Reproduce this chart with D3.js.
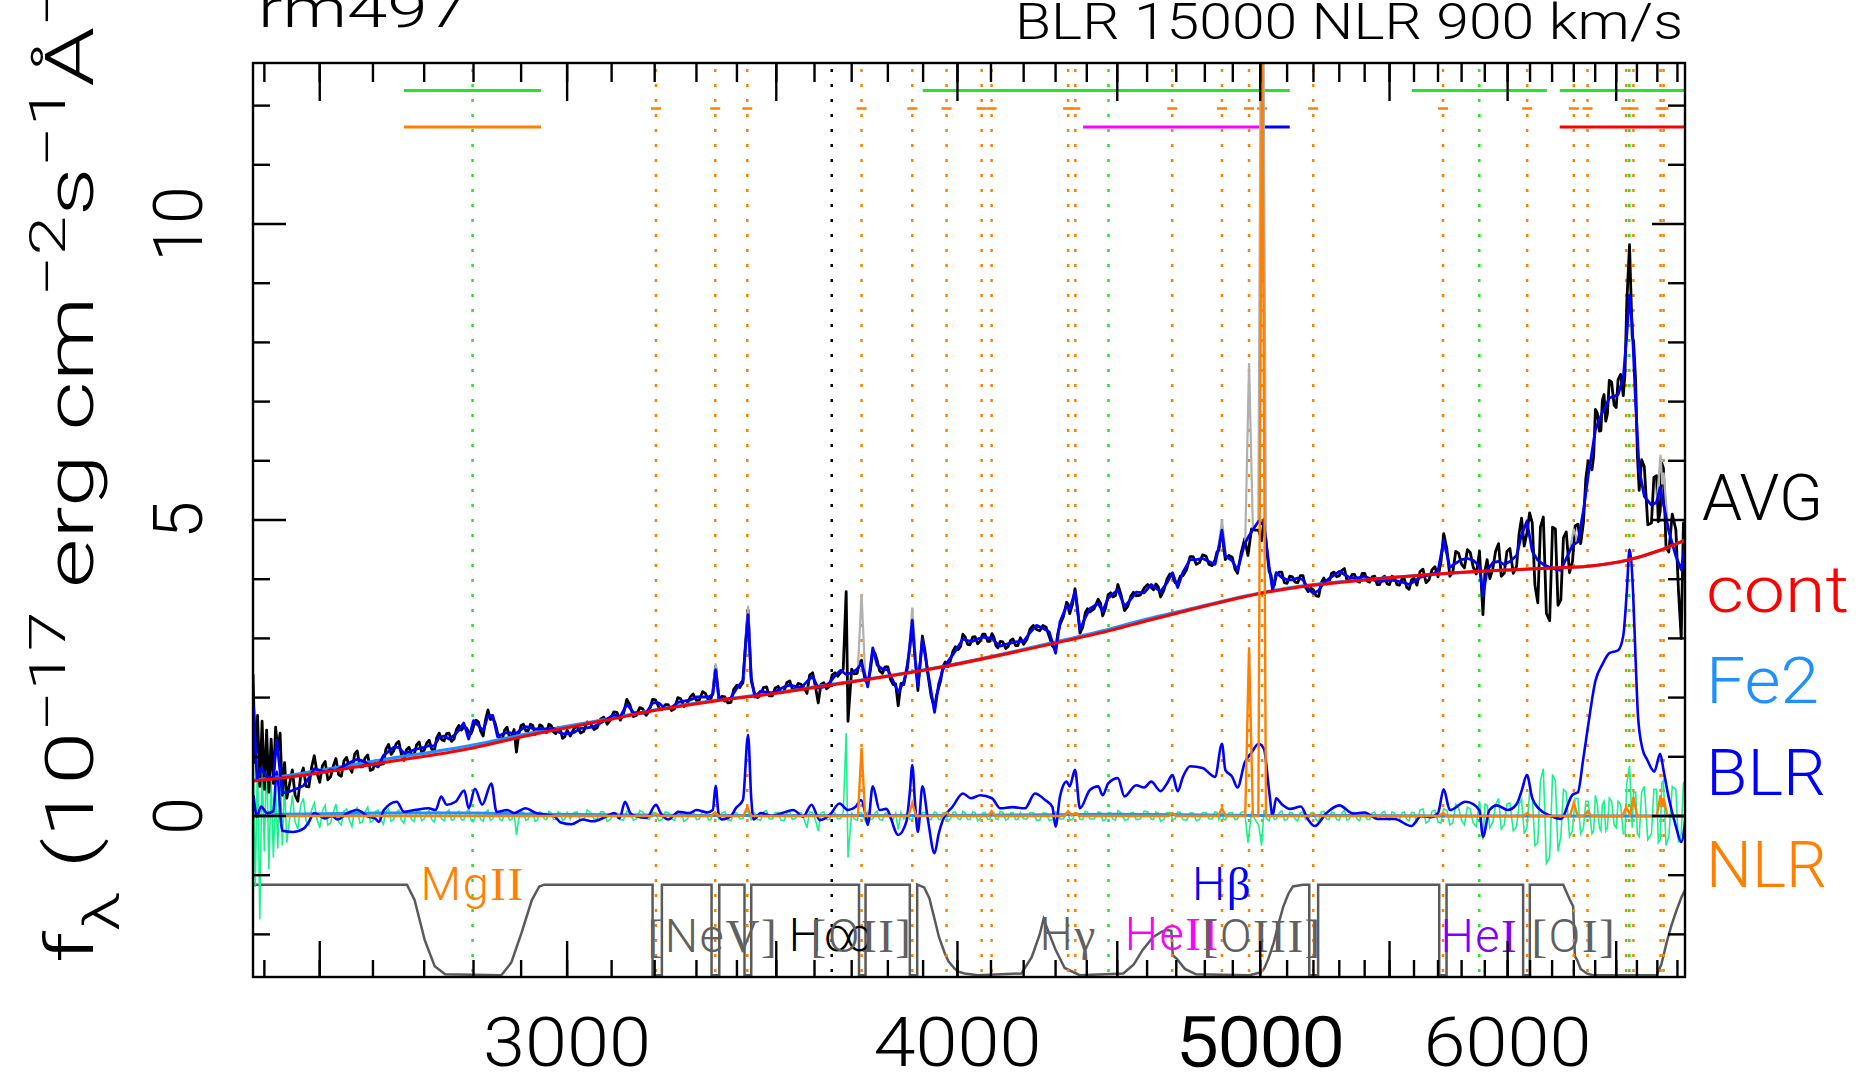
<!DOCTYPE html>
<html>
<head>
<meta charset="utf-8">
<script src="https://cdn.jsdelivr.net/npm/d3@7"></script>
<style>
  body { margin: 0; background: #fff; }
  text { font-family: "Roboto", "Liberation Sans", sans-serif; font-weight: 300; }
</style>
</head>
<body>
<svg id="chart" width="1863" height="1075"></svg>
<script>
// ---- axis ranges and ticks ----
const waveRange = [2380, 6838];
const fluxRange = [-2.72, 12.72];
const xMinorTicks = [2400,2500,2600,2700,2800,2900,3000,3100,3200,3300,3400,3500,3600,3700,3800,3900,4000,4100,4200,4300,4400,4500,4600,4700,4800,4900,5000,5100,5200,5300,5400,5500,5600,5700,5800,5900,6000,6100,6200,6300,6400,6500,6600,6700,6800];
const xMajorTicks = [2500,3000,3500,4000,4500,5000,5500,6000,6500];
const xTickLabels = [3000,4000,5000,6000];
const yMinorTicks = [-2,-1,0,1,2,3,4,6,7,8,9,11,12];
const yMajorTicks = [0,5,10];
const yTickLabels = [0,5,10];

// ---- spectrum components (wavelength in A, flux in 1e-17) ----
const contFlux = [[2380,0.59],[2431,0.64],[2618,0.90],[2799,1.15],[2932,1.39],[3090,1.62],[3206,1.79],[3343,1.94],[3509,2.08],[3580,2.15],[3967,2.53],[4299,2.92],[4482,3.14],[4610,3.31],[4706,3.43],[4991,3.75],[5147,3.87],[5339,3.96],[5669,4.08],[5968,4.15],[6205,4.19],[6367,4.22],[6552,4.32],[6707,4.48],[6838,4.66]];

const fe2PlusCont = [[2380,0.60],[2431,0.67],[2618,0.95],[2799,1.20],[2932,1.42],[3090,1.64],[3206,1.80],[3343,1.95],[3509,2.09],[3580,2.16],[3967,2.54],[4299,2.94],[4482,3.17],[4610,3.34],[4706,3.45],[4991,3.76],[5147,3.88],[5339,3.97],[5669,4.08],[5968,4.15],[6205,4.19],[6367,4.22],[6552,4.32],[6707,4.48],[6838,4.66]];

const fe2Flux = [[2380,0],[2431,0.03],[2618,0.05],[2799,0.05],[2932,0.03],[3090,0.02],[3343,0.01],[3967,0.01],[4299,0.02],[4482,0.03],[4706,0.02],[4991,0.01],[5339,0.01],[5669,0],[6838,0]];

const blrFlux = [[2381,0.35],[2387,-0.01],[2394,0.16],[2405,0.05],[2416,0.08],[2422,0.75],[2432,-0.25],[2451,-0.27],[2471,-0.21],[2480,-0.10],[2490,0.05],[2510,-0.04],[2523,0.00],[2533,-0.06],[2550,0.04],[2570,0.10],[2591,-0.01],[2604,-0.04],[2611,-0.10],[2621,0.10],[2646,0.24],[2660,0.07],[2681,0.10],[2709,0.13],[2723,0.10],[2734,0.33],[2745,0.19],[2763,0.24],[2781,0.43],[2790,0.13],[2803,0.46],[2818,0.19],[2837,0.55],[2848,0.07],[2870,0.10],[2886,0.05],[2909,0.13],[2932,0.05],[2971,0.00],[2986,-0.11],[3010,-0.14],[3034,-0.06],[3058,-0.09],[3090,0.00],[3106,0.05],[3118,-0.04],[3131,0.24],[3143,0.05],[3155,0.00],[3181,-0.03],[3203,0.19],[3214,0.05],[3232,-0.06],[3257,0.07],[3283,0.05],[3300,0.10],[3327,0.06],[3340,0.10],[3347,0.51],[3354,0.05],[3362,-0.06],[3385,0.00],[3397,0.13],[3415,0.27],[3428,1.37],[3436,0.30],[3442,-0.06],[3460,0.05],[3488,0.00],[3515,0.05],[3544,0.10],[3570,-0.01],[3592,0.19],[3614,-0.07],[3641,0.02],[3667,0.21],[3690,0.10],[3710,0.15],[3726,0.27],[3737,0.05],[3744,-0.15],[3758,0.50],[3777,0.10],[3795,0.12],[3829,-0.32],[3852,-0.10],[3862,0.40],[3869,0.86],[3877,0.20],[3885,-0.27],[3898,0.50],[3914,-0.07],[3933,-0.63],[3945,-0.30],[3957,-0.07],[3986,0.16],[4016,0.38],[4040,0.30],[4068,0.35],[4103,0.30],[4128,0.13],[4165,0.15],[4204,0.13],[4235,0.38],[4267,0.27],[4290,0.15],[4300,-0.18],[4314,0.33],[4335,0.58],[4345,0.50],[4362,0.78],[4378,0.13],[4410,0.44],[4437,0.50],[4452,0.35],[4470,0.55],[4502,0.64],[4524,0.33],[4563,0.52],[4590,0.48],[4614,0.58],[4646,0.42],[4668,0.55],[4687,0.69],[4705,0.42],[4723,0.66],[4748,0.84],[4792,0.81],[4836,0.66],[4861,1.22],[4873,0.78],[4898,0.66],[4917,0.48],[4943,0.90],[4968,1.07],[4994,1.22],[5014,1.13],[5033,0.42],[5046,0.01],[5059,0.30],[5080,0.20],[5112,0.12],[5152,0.16],[5178,-0.05],[5205,-0.17],[5250,0.05],[5300,0.18],[5355,0.04],[5400,0.06],[5453,-0.05],[5520,-0.05],[5589,-0.17],[5630,0.00],[5669,-0.02],[5700,0.05],[5724,0.45],[5750,0.10],[5817,0.24],[5850,0.20],[5877,0.09],[5892,-0.35],[5920,0.10],[5953,0.18],[6000,0.10],[6040,0.20],[6062,0.42],[6086,0.69],[6110,0.30],[6141,0.12],[6189,0.01],[6240,-0.05],[6294,0.36],[6319,0.40],[6343,0.94],[6367,1.53],[6401,2.28],[6434,2.56],[6467,2.75],[6509,2.80],[6534,3.05],[6551,3.80],[6564,4.50],[6581,3.80],[6594,2.60],[6605,1.70],[6626,1.15],[6650,0.95],[6685,0.75],[6714,1.05],[6731,0.77],[6757,0.30],[6792,-0.17],[6819,-0.44],[6840,-0.05]];

const modelFlux = [[2381,1.85],[2387,0.61],[2394,0.81],[2405,0.66],[2416,0.64],[2422,1.28],[2432,0.39],[2440,0.40],
[2450,0.43],[2460,0.47],[2470,0.51],[2480,0.64],[2490,0.80],[2500,0.77],[2510,0.74],[2520,0.78],[2530,0.77],[2540,0.82],[2550,0.87],[2560,0.92],[2570,0.96],[2580,0.93],[2590,0.88],[2600,0.87],[2610,0.83],[2620,1.02],[2630,1.09],[2640,1.16],[2650,1.16],[2660,1.06],[2670,1.08],[2680,1.12],[2690,1.14],[2700,1.16],[2710,1.19],[2720,1.18],[2730,1.33],[2740,1.35],[2750,1.30],[2760,1.36],[2770,1.45],[2780,1.57],[2790,1.30],[2800,1.61],[2810,1.53],[2820,1.44],[2830,1.69],[2840,1.70],[2850,1.34],[2860,1.38],[2870,1.41],[2880,1.40],[2890,1.40],[2900,1.46],[2910,1.51],[2920,1.49],[2930,1.47],[2940,1.47],[2950,1.47],[2960,1.47],[2970,1.48],[2980,1.42],[2990,1.39],[3000,1.39],
[3015,1.41],[3030,1.48],[3045,1.49],[3060,1.51],[3075,1.57],[3090,1.64],[3105,1.71],[3120,1.68],[3135,1.89],[3150,1.75],[3165,1.74],[3180,1.74],[3195,1.91],[3210,1.91],[3225,1.81],[3240,1.83],[3255,1.92],[3270,1.94],[3285,1.96],[3300,2.01],[3315,2.01],[3330,2.01],[3340,2.05],[3347,2.47],[3355,2.01],[3370,1.94],[3385,2.00],[3400,2.16],[3415,2.29],[3428,3.40],[3436,2.34],[3445,2.01],[3460,2.11],[3475,2.09],[3490,2.08],[3505,2.13],[3520,2.18],[3535,2.21],[3550,2.19],[3565,2.17],[3580,2.27],[3595,2.36],[3610,2.16],[3625,2.18],[3640,2.25],[3655,2.37],[3670,2.46],[3685,2.39],[3690,2.40],[3700,2.42],[3715,2.48],[3727,2.58],[3737,2.37],[3744,2.18],[3758,2.84],[3770,2.55],[3785,2.48],[3800,2.47],[3815,2.28],[3829,2.09],[3845,2.27],[3855,2.49],[3869,3.31],[3877,2.66],[3885,2.20],[3898,2.98],[3914,2.43],[3933,1.75],[3945,2.23],[3957,2.47],[3972,2.61],[3987,2.73],[4002,2.86],[4016,2.99],[4030,2.96],[4045,2.95],[4060,2.99],[4075,3.02],[4090,3.01],[4103,3.01],[4115,2.93],[4128,2.87],[4145,2.90],[4160,2.92],[4175,2.94],[4190,2.95],[4200,2.95],
[4220,3.10],[4240,3.22],[4260,3.17],[4280,3.11],[4300,2.75],[4314,3.28],[4335,3.55],[4345,3.49],[4362,3.79],[4378,3.15],[4395,3.35],[4410,3.50],[4437,3.59],[4452,3.46],[4470,3.68],[4485,3.75],[4502,3.82],[4524,3.54],[4545,3.66],[4563,3.78],[4590,3.77],[4614,3.91],[4630,3.85],[4646,3.79],[4668,3.94],[4687,4.11],[4705,3.86],[4723,4.12],[4748,4.33],[4770,4.33],[4792,4.35],[4815,4.30],[4836,4.25],[4850,4.55],[4861,4.83],[4873,4.40],[4898,4.31],[4917,4.15],[4943,4.60],[4955,4.70],[4968,4.80],[4994,4.98],[5005,4.94],[5014,4.91],[5033,4.21],[5046,3.81],[5059,4.11],[5080,4.03],[5100,3.99],[5120,3.99],[5140,4.02],[5160,3.99],[5180,3.84],[5200,3.76],[5220,3.81],[5240,3.94],[5260,4.01],[5280,4.07],[5300,4.13],[5320,4.08],[5340,4.03],[5360,4.02],[5380,4.03],[5400,4.05],[5420,4.01],[5440,3.98],[5460,3.96],[5480,3.97],[5500,3.98],[5520,3.98],[5540,3.96],[5560,3.94],[5580,3.91],[5600,3.96],
[5625,4.03],[5650,4.06],[5675,4.08],[5700,4.14],[5724,4.65],[5750,4.20],[5775,4.27],[5800,4.33],[5825,4.35],[5850,4.32],[5877,4.22],[5892,3.72],[5910,4.15],[5935,4.28],[5960,4.30],[5985,4.25],[6010,4.30],[6040,4.40],[6062,4.75],[6086,4.98],[6110,4.47],[6135,4.32],[6160,4.25],[6189,4.20],[6215,4.17],[6240,4.15],[6265,4.35],[6294,4.57],[6319,4.63],[6345,5.16],[6367,5.75],[6385,6.15],[6401,6.52],[6420,6.70],[6434,6.82],[6450,6.92],[6467,7.06],[6490,7.09],[6509,7.12],[6534,7.40],[6551,8.13],[6564,8.80],[6577,8.30],[6594,6.94],[6611,5.85],[6636,5.40],[6671,5.25],[6696,5.30],[6714,5.55],[6730,5.28],[6757,4.81],[6792,4.39],[6819,4.16],[6840,4.63]];

const avgFlux = [[2380,2.40],[2384,0.90],[2388,1.70],[2392,0.50],[2396,1.60],[2400,0.45],[2404,1.45],[2408,0.40],[2412,1.30],[2416,0.55],[2420,1.50],[2424,1.10],[2428,1.40],[2432,0.35],[2436,0.90],[2440,0.30],
[2450,0.78],[2460,0.25],[2470,0.81],[2480,0.49],[2490,1.02],[2500,0.57],[2510,0.92],[2520,0.66],[2530,0.97],[2540,0.67],[2550,0.99],[2560,0.74],[2570,1.10],[2580,0.83],[2590,1.03],[2600,0.79],[2610,0.93],[2620,0.88],[2630,1.21],[2640,1.10],[2650,1.26],[2660,0.94],[2670,1.16],[2680,1.03],[2690,1.25],[2700,1.11],[2710,1.28],[2720,1.08],[2730,1.40],[2740,1.27],[2750,1.40],[2760,1.30],[2770,1.53],[2780,1.50],[2790,1.42],[2800,1.51],[2810,1.59],[2820,1.35],[2830,1.79],[2840,1.65],[2850,1.41],[2860,1.30],[2870,1.50],[2880,1.34],[2890,1.08],[2900,1.53],[2910,1.44],[2920,1.55],[2930,1.38],[2940,1.54],[2950,1.42],[2960,1.55],[2970,1.42],[2980,1.49],[2990,1.31],[3000,1.45],
[3015,1.47],[3030,1.40],[3045,1.59],[3060,1.46],[3075,1.64],[3090,1.55],[3105,1.76],[3120,1.62],[3135,1.97],[3150,1.68],[3165,1.83],[3180,1.70],[3195,1.97],[3210,1.83],[3225,1.88],[3240,1.78],[3255,2.00],[3270,1.85],[3285,2.01],[3300,1.95],[3315,2.10],[3330,1.94],[3340,2.09],[3347,2.53],[3355,1.96],[3370,2.01],[3385,1.92],[3400,2.21],[3415,2.25],[3428,3.48],[3436,2.28],[3445,2.06],[3460,2.04],[3475,2.18],[3490,2.03],[3505,2.19],[3520,2.10],[3535,2.28],[3550,2.15],[3565,2.22],[3580,2.07],[3595,2.42],[3610,1.91],[3625,2.25],[3640,2.19],[3655,2.42],[3670,2.42],[3685,3.79],[3690,1.60],[3700,2.48],[3715,2.41],[3727,2.63],[3737,2.29],[3744,2.24],[3758,2.79],[3770,2.63],[3785,2.41],[3800,2.52],[3815,2.22],[3829,1.86],[3845,2.22],[3855,2.56],[3869,3.25],[3877,2.71],[3885,2.12],[3898,3.04],[3914,2.38],[3933,1.82],[3945,2.17],[3957,2.52],[3972,2.52],[3987,2.79],[4002,2.81],[4016,3.07],[4030,2.90],[4045,3.02],[4060,2.91],[4075,3.07],[4090,2.95],[4103,3.08],[4115,2.88],[4128,2.95],[4145,2.83],[4160,2.97],[4175,2.88],[4190,3.01],[4200,2.90],
[4220,3.16],[4240,3.15],[4260,3.22],[4280,3.03],[4300,2.82],[4314,3.23],[4335,3.61],[4345,3.42],[4362,3.84],[4378,3.09],[4395,3.43],[4410,3.45],[4437,3.66],[4452,3.38],[4470,3.74],[4485,3.70],[4502,3.91],[4524,3.47],[4545,3.71],[4563,3.72],[4590,3.85],[4614,3.86],[4630,3.92],[4646,3.70],[4668,4.00],[4687,4.06],[4705,3.93],[4723,4.06],[4748,4.38],[4770,4.25],[4792,4.41],[4815,4.25],[4836,4.32],[4850,4.49],[4861,4.88],[4873,4.33],[4898,4.37],[4917,4.10],[4943,4.68],[4955,4.40],[4968,4.85],[4994,4.83],[5005,4.65],[5014,5.01],[5033,4.13],[5046,3.87],[5059,4.06],[5080,4.12],[5100,3.93],[5120,4.04],[5140,3.94],[5160,4.06],[5180,3.79],[5200,3.82],[5220,3.71],[5240,4.02],[5260,3.95],[5280,4.12],[5300,4.06],[5320,4.18],[5340,3.98],[5360,4.08],[5380,3.95],[5400,4.10],[5420,3.95],[5440,4.05],[5460,3.91],[5480,4.05],[5500,3.91],[5520,4.03],[5540,3.90],[5560,4.01],[5580,3.83],[5600,4.02],
[5625,4.13],[5650,3.94],[5675,4.16],[5700,4.04],[5724,4.77],[5750,4.05],[5775,4.47],[5800,4.25],[5825,4.50],[5850,4.20],[5877,4.47],[5892,3.40],[5910,4.33],[5935,4.18],[5960,4.60],[5985,4.10],[6010,4.52],[6040,4.22],[6062,5.03],[6086,4.78],[6110,4.95],[6135,3.60],[6160,5.05],[6189,3.30],[6215,4.85],[6240,3.65],[6265,4.80],[6294,4.30],[6319,4.93],[6345,4.96],[6367,6.00],[6385,5.85],[6401,6.87],[6420,6.50],[6434,7.02],[6450,6.67],[6467,7.36],[6490,6.94],[6509,7.37],[6534,7.10],[6551,8.68],[6564,9.65],[6577,8.10],[6594,7.34],[6611,5.50],[6636,5.90],[6671,4.95],[6696,5.75],[6714,5.15],[6730,5.88],[6757,4.46],[6792,4.84],[6819,3.00],[6840,4.00]];

// extra data pixels between the ones above
const avgFluxFine = [[2455,0.35],[2465,0.67],[2475,0.50],[2485,0.82],[2495,0.73],[2505,0.85],[2515,0.61],[2525,0.84],[2535,0.70],[2545,0.93],[2555,0.83],[2565,1.04],[2575,0.83],[2585,0.98],[2595,0.77],[2605,0.93],[2615,0.87],[2625,1.13],[2635,1.04],[2645,1.22],[2655,1.04],[2665,1.12],[2675,1.04],[2685,1.20],[2695,1.07],[2705,1.23],[2715,1.13],[2725,1.32],[2735,1.29],[2745,1.39],[2755,1.26],[2765,1.46],[2775,1.45],[2785,1.49],[2795,1.39],[2805,1.62],[2815,1.43],[2825,1.63],[2835,1.63],[2845,1.57],[2855,1.30],[2865,1.45],[2875,1.34],[2885,1.46],[2895,1.38],[2905,1.55],[2915,1.44],[2925,1.53],[2935,1.40],[2945,1.52],[2955,1.41],[2965,1.53],[2975,1.39],[2985,1.46],[2995,1.34],
[3007,1.35],[3022,1.52],[3037,1.43],[3052,1.56],[3067,1.49],[3082,1.67],[3097,1.62],[3112,1.75],[3127,1.72],[3142,1.88],[3157,1.70],[3172,1.81],[3187,1.77],[3202,1.96],[3217,1.80],[3232,1.88],[3247,1.81],[3262,1.98],[3277,1.89],[3292,2.06],[3307,1.96],[3322,2.07],[3335,1.97],[3362,2.02],[3377,1.91],[3392,2.14],[3407,2.17],[3421,2.86],[3452,2.00],[3467,2.17],[3482,2.03],[3497,2.16],[3512,2.08],[3527,2.25],[3542,2.14],[3557,2.24],[3572,2.17],[3587,2.38],[3602,2.20],[3617,2.22],[3632,2.15],[3647,2.38],[3662,2.36],[3677,2.48],[3707,2.40],[3721,2.59],[3751,2.45],[3764,2.75],[3777,2.45],[3792,2.52],[3807,2.31],[3822,2.23],[3837,2.24],[3862,2.84],[3891,2.54],[3906,2.76],[3923,2.03],[3939,2.04],[3951,2.29],[3964,2.60],[3979,2.62],[3994,2.86],[4009,2.86],[4023,3.02],[4037,2.89],[4052,3.03],[4067,2.95],[4082,3.07],[4096,2.95],[4109,3.02],[4121,2.84],[4136,2.94],[4152,2.86],[4167,2.99],[4182,2.88],
[4210,2.98],[4230,3.22],[4250,3.13],[4270,3.19],[4290,2.87],[4307,3.08],[4325,3.37],[4340,3.58],[4354,3.58],[4370,3.52],[4387,3.19],[4402,3.50],[4424,3.50],[4445,3.59],[4461,3.51],[4478,3.77],[4494,3.72],[4513,3.73],[4535,3.54],[4554,3.78],[4577,3.73],[4602,3.91],[4622,3.82],[4638,3.87],[4657,3.81],[4678,4.09],[4696,3.94],[4714,4.05],[4736,4.16],[4759,4.38],[4781,4.28],[4804,4.39],[4826,4.23],[4843,4.46],[4867,4.54],[4886,4.40],[4908,4.17],[4930,4.44],[4981,4.83],[5024,4.51],[5040,4.07],[5052,3.90],[5070,4.12],[5090,3.94],[5110,4.05],[5130,3.95],[5150,4.06],[5170,3.86],[5190,3.85],[5210,3.72],[5230,3.94],[5250,3.92],[5270,4.10],[5290,4.04],[5310,4.15],[5330,3.98],[5350,4.08],[5370,3.97],[5390,4.10],[5410,3.97],[5430,4.04],[5450,3.91],[5470,4.02],[5490,3.92],[5510,4.05],[5530,3.91],[5550,4.00],[5570,3.86],[5590,3.99],
[5612,3.90],[5637,4.17],[5662,3.99],[5687,4.21],[5712,4.28],[5737,4.52],[5762,4.11],[5787,4.44],[5812,4.19],[5837,4.45],[5863,4.09],[5901,4.15],[5922,4.01],[5947,4.47],[5972,4.05],[5997,4.47],[6025,4.10],[6051,4.77],[6074,4.56],[6098,5.12],[6122,3.90],[6147,4.88],[6174,3.42],[6202,4.88],[6227,3.56],[6252,4.70],[6280,4.11],[6306,4.90],[6332,4.60],[6356,5.70],[6393,6.08],[6410,6.81],[6427,6.51],[6442,7.12],[6458,6.79],[6478,7.33],[6500,6.90],[6521,7.46],[6542,7.47],[6584,8.00],[6602,6.10],[6623,6.02],[6653,4.92],[6683,5.72],[6705,4.97],[6722,5.96],[6743,4.54],[6774,5.10],[6805,3.82],[6830,4.95]];

const residFlux = [[2380,1.40],[2384,-1.20],[2388,1.00],[2392,-1.75],[2396,0.90],[2400,-0.60],[2404,1.10],[2408,-0.90],[2412,0.60],[2416,-0.70],[2420,0.45],[2424,-0.55],[2428,0.85],[2432,-0.50],[2436,0.55],[2440,-0.45],
[2450,0.35],[2460,-0.22],[2470,0.30],[2480,-0.15],[2490,0.22],[2500,-0.20],[2510,0.18],[2520,-0.12],[2530,0.20],[2540,-0.15],[2550,0.12],[2560,-0.18],[2570,0.14],[2580,-0.10],[2590,0.15],[2600,-0.08],[2610,0.10],[2620,-0.14],[2630,0.12],[2640,-0.06],[2650,0.10],[2660,-0.12],[2670,0.08],[2680,-0.09],[2690,0.11],[2700,-0.05],[2710,0.09],[2720,-0.10],[2730,0.07],[2740,-0.08],[2750,0.10],[2760,-0.06],[2770,0.08],[2780,-0.07],[2790,0.12],[2800,-0.10],[2810,0.06],[2820,-0.09],[2830,0.10],[2840,-0.05],[2850,0.07],[2860,-0.08],[2870,0.09],[2880,-0.06],[2890,-0.32],[2900,0.07],[2910,-0.07],[2920,0.06],[2930,-0.09],[2940,0.07],[2950,-0.05],[2960,0.08],[2970,-0.06],[2980,0.07],[2990,-0.08],[3000,0.06],
[3015,0.06],[3030,-0.08],[3045,0.10],[3060,-0.05],[3075,0.07],[3090,-0.09],[3105,0.05],[3120,-0.06],[3135,0.08],[3150,-0.07],[3165,0.09],[3180,-0.04],[3195,0.06],[3210,-0.08],[3225,0.07],[3240,-0.05],[3255,0.08],[3270,-0.09],[3285,0.05],[3300,-0.06],[3315,0.09],[3330,-0.07],[3340,0.04],[3347,0.06],[3355,-0.05],[3370,0.07],[3385,-0.08],[3400,0.05],[3415,-0.04],[3428,0.08],[3436,-0.06],[3445,0.05],[3460,-0.07],[3475,0.09],[3490,-0.05],[3505,0.06],[3520,-0.08],[3535,0.07],[3550,-0.04],[3565,0.05],[3580,-0.20],[3595,0.06],[3610,-0.25],[3625,0.07],[3640,-0.06],[3655,0.05],[3670,-0.04],[3685,1.40],[3690,-0.70],[3700,0.06],[3715,-0.07],[3727,0.05],[3737,-0.08],[3744,0.06],[3758,-0.05],[3770,0.08],[3785,-0.07],[3800,0.05],[3815,-0.06],[3829,-0.23],[3845,-0.05],[3855,0.07],[3869,-0.06],[3877,0.05],[3885,-0.08],[3898,0.06],[3914,-0.05],[3933,0.07],[3945,-0.06],[3957,0.05],[3972,-0.09],[3987,0.06],[4002,-0.05],[4016,0.08],[4030,-0.06],[4045,0.07],[4060,-0.08],[4075,0.05],[4090,-0.06],[4103,0.07],[4115,-0.05],[4128,0.08],[4145,-0.07],[4160,0.05],[4175,-0.06],[4190,0.06],[4200,-0.05],
[4220,0.06],[4240,-0.07],[4260,0.05],[4280,-0.08],[4300,0.07],[4314,-0.05],[4335,0.06],[4345,-0.07],[4362,0.05],[4378,-0.06],[4395,0.08],[4410,-0.05],[4437,0.07],[4452,-0.08],[4470,0.06],[4485,-0.05],[4502,0.09],[4524,-0.07],[4545,0.05],[4563,-0.06],[4590,0.08],[4614,-0.05],[4630,0.07],[4646,-0.09],[4668,0.06],[4687,-0.05],[4705,0.07],[4723,-0.06],[4748,0.05],[4770,-0.08],[4792,0.06],[4815,-0.05],[4836,0.07],[4850,-0.06],[4861,0.05],[4873,-0.07],[4898,0.06],[4917,-0.05],[4943,0.08],[4955,-0.45],[4968,0.05],[4994,-0.15],[5005,-0.50],[5014,0.10],[5033,-0.08],[5046,0.06],[5059,-0.05],[5080,0.09],[5100,-0.06],[5120,0.05],[5140,-0.08],[5160,0.07],[5180,-0.05],[5200,0.06],[5220,-0.10],[5240,0.08],[5260,-0.06],[5280,0.05],[5300,-0.07],[5320,0.10],[5340,-0.05],[5360,0.06],[5380,-0.08],[5400,0.05],[5420,-0.06],[5440,0.07],[5460,-0.05],[5480,0.08],[5500,-0.07],[5520,0.05],[5540,-0.06],[5560,0.07],[5580,-0.08],[5600,0.06],
[5625,0.10],[5650,-0.12],[5675,0.08],[5700,-0.10],[5724,0.12],[5750,-0.15],[5775,0.20],[5800,-0.08],[5825,0.15],[5850,-0.12],[5877,0.25],[5892,-0.40],[5910,0.18],[5935,-0.10],[5960,0.30],[5985,-0.15],[6010,0.22],[6040,-0.18],[6062,0.28],[6086,-0.20],[6110,0.35],[6135,-0.45],[6160,0.80],[6189,-0.70],[6215,0.60],[6240,-0.35],[6265,0.40],[6294,-0.25],[6319,0.30],[6345,-0.20],[6367,0.25],[6385,-0.30],[6401,0.35],[6420,-0.20],[6434,0.20],[6450,-0.25],[6467,0.30],[6490,-0.15],[6509,0.25],[6534,-0.30],[6551,0.55],[6564,0.85],[6577,-0.20],[6594,0.40],[6611,-0.35],[6636,0.50],[6671,-0.30],[6696,0.45],[6714,-0.40],[6730,0.60],[6757,-0.35],[6792,0.45],[6819,-0.30],[6840,0.60]];

const residFluxFine = [[2455,-0.10],[2465,0.18],[2475,-0.08],[2485,0.10],[2495,-0.06],[2505,0.09],[2515,-0.15],[2525,0.06],[2535,-0.10],[2545,0.08],[2555,-0.07],[2565,0.10],[2575,-0.12],[2585,0.07],[2595,-0.11],[2605,0.08],[2615,-0.06],[2625,0.07],[2635,-0.09],[2645,0.06],[2655,-0.07],[2665,0.05],[2675,-0.06],[2685,0.07],[2695,-0.08],[2705,0.05],[2715,-0.06],[2725,0.06],[2735,-0.05],[2745,0.06],[2755,-0.07],[2765,0.05],[2775,-0.06],[2785,0.05],[2795,-0.07],[2805,0.05],[2815,-0.06],[2825,0.06],[2835,-0.07],[2845,0.05],[2855,-0.06],[2865,0.05],[2875,-0.07],[2885,0.06],[2895,-0.05],[2905,0.06],[2915,-0.06],[2925,0.05],[2935,-0.07],[2945,0.05],[2955,-0.06],[2965,0.05],[2975,-0.06],[2985,0.05],[2995,-0.05],
[3007,-0.05],[3022,0.07],[3037,-0.06],[3052,0.06],[3067,-0.05],[3082,0.07],[3097,-0.06],[3112,0.05],[3127,-0.07],[3142,0.06],[3157,-0.05],[3172,0.07],[3187,-0.06],[3202,0.05],[3217,-0.06],[3232,0.06],[3247,-0.07],[3262,0.05],[3277,-0.06],[3292,0.07],[3307,-0.05],[3322,0.06],[3335,-0.06],[3362,0.05],[3377,-0.06],[3392,0.06],[3407,-0.05],[3421,0.06],[3452,-0.06],[3467,0.07],[3482,-0.05],[3497,0.06],[3512,-0.07],[3527,0.05],[3542,-0.06],[3557,0.06],[3572,-0.05],[3587,0.07],[3602,-0.06],[3617,0.05],[3632,-0.06],[3647,0.07],[3662,-0.05],[3677,0.06],[3707,-0.05],[3721,0.06],[3751,-0.06],[3764,0.05],[3777,-0.06],[3792,0.05],[3807,-0.06],[3822,0.05],[3837,0.06],[3862,-0.06],[3891,-0.05],[3906,0.06],[3923,-0.06],[3939,0.05],[3951,-0.06],[3964,0.06],[3979,-0.05],[3994,0.07],[4009,-0.06],[4023,0.05],[4037,-0.06],[4052,0.06],[4067,-0.05],[4082,0.06],[4096,-0.06],[4109,0.05],[4121,-0.06],[4136,0.06],[4152,-0.05],[4167,0.06],[4182,-0.06],
[4210,-0.05],[4230,0.06],[4250,-0.07],[4270,0.05],[4290,-0.06],[4307,0.06],[4325,-0.05],[4340,0.06],[4354,-0.06],[4370,0.05],[4387,-0.06],[4402,0.07],[4424,-0.05],[4445,0.06],[4461,-0.06],[4478,0.05],[4494,-0.07],[4513,0.05],[4535,-0.06],[4554,0.06],[4577,-0.05],[4602,0.07],[4622,-0.06],[4638,0.05],[4657,-0.06],[4678,0.06],[4696,-0.05],[4714,0.06],[4736,-0.07],[4759,0.05],[4781,-0.06],[4804,0.06],[4826,-0.05],[4843,0.06],[4867,-0.06],[4886,0.05],[4908,-0.06],[4930,0.06],[4981,-0.06],[5024,-0.05],[5040,0.06],[5052,-0.06],[5070,0.05],[5090,-0.07],[5110,0.06],[5130,-0.05],[5150,0.06],[5170,-0.06],[5190,0.05],[5210,-0.06],[5230,0.07],[5250,-0.05],[5270,0.06],[5290,-0.06],[5310,0.05],[5330,-0.07],[5350,0.06],[5370,-0.05],[5390,0.06],[5410,-0.06],[5430,0.05],[5450,-0.06],[5470,0.06],[5490,-0.05],[5510,0.07],[5530,-0.06],[5550,0.05],[5570,-0.06],[5590,0.06],
[5612,-0.10],[5637,0.12],[5662,-0.08],[5687,0.10],[5712,-0.12],[5737,0.10],[5762,-0.12],[5787,0.14],[5812,-0.15],[5837,0.12],[5863,-0.18],[5901,0.20],[5922,-0.20],[5947,0.18],[5972,-0.22],[5997,0.20],[6025,-0.25],[6051,0.20],[6074,-0.30],[6098,0.40],[6122,-0.50],[6147,0.60],[6174,-0.80],[6202,0.70],[6227,-0.60],[6252,0.45],[6280,-0.35],[6306,0.30],[6332,-0.30],[6356,0.25],[6393,-0.25],[6410,0.20],[6427,-0.25],[6442,0.25],[6458,-0.20],[6478,0.25],[6500,-0.20],[6521,0.20],[6542,-0.30],[6584,0.40],[6602,-0.30],[6623,0.40],[6653,-0.40],[6683,0.45],[6705,-0.45],[6722,0.55],[6743,-0.50],[6774,0.50],[6805,-0.45],[6830,0.55]];

const nlrFlux = [[2380,0],[3195,0],[3203,0.04],[3211,0],[3337,0],[3346,0.06],[3355,0],[3416,0],[3426,0.15],[3436,0],[3717,0],[3727,1.15],[3737,0],[3858,0],[3869,0.22],[3880,0],[3957,0],[3968,0.06],[3979,0],[4091,0],[4102,0.08],[4113,0],[4328,0],[4340,0.08],[4351,0.01],[4363,0.05],[4375,0],[4673,0],[4686,0.05],[4699,0],[4847,0],[4861,0.13],[4875,0],[4945,0],[4959,2.85],[4973,0],[4993,0],[5007,13.5],[5021,0],[5185,0],[5199,0.04],[5213,0],[5705,0],[5721,0.05],[5737,0],[6070,0],[6087,0.05],[6104,0],[6282,0],[6300,0.22],[6318,0],[6346,0],[6364,0.08],[6382,0],[6530,0],[6548,0.15],[6566,0.02],[6583,0.32],[6601,0],[6697,0],[6716,0.35],[6724,0.15],[6731,0.30],[6750,0],[6840,0]];

// total model (with narrow lines) where it peeks above the broad fit
const totalPeaks = [
  [[3340,2.05],[3347,2.58],[3354,2.01]],
  [[3418,2.35],[3428,3.55],[3436,2.34]],
  [[3717,2.48],[3727,3.75],[3737,2.37]],
  [[3858,2.60],[3869,3.52],[3880,2.55]],
  [[4847,4.50],[4861,5.00],[4875,4.38]],
  [[4945,4.62],[4959,7.65],[4973,4.85]],
  [[4993,4.98],[5007,18.0],[5021,4.70]],
  [[6282,4.50],[6300,4.85],[6318,4.63]],
  [[6697,5.30],[6716,6.10],[6724,5.60],[6731,5.80],[6750,5.00]]
];

// fit weight (0..1) drawn along the bottom
const fitWeight = [[2380,1],[2666,1],[2681,0.83],[2701,0.39],[2721,0.10],[2742,0.01],[2858,0],[2879,0.14],[2901,0.47],[2923,0.83],[2939,0.98],[2950,1],
[3195,1],[3195,0],[3217,0],[3217,1],[3337,1],[3337,0],[3356,0],[3356,1],[3419,1],[3419,0],[3436,0],[3436,1],[3720,1],[3720,0],[3738,0],[3738,1],[3862,1],[3862,0],[3883,0],[3883,1],
[3903,0.97],[3918,0.85],[3933,0.62],[3946,0.42],[3963,0.24],[3974,0.15],[3992,0.07],[4003,0.04],[4021,0.02],[4060,0],
[4193,0.02],[4225,0.20],[4250,0.45],[4262,0.62],[4270,0.55],[4300,0.28],[4329,0.08],[4377,0],
[4520,0.02],[4555,0.12],[4585,0.28],[4620,0.42],[4650,0.48],[4668,0.50],[4683,0.49],[4688,0.22],[4702,0.18],[4730,0.07],[4769,0.01],[4960,0],
[5000,0.03],[5014,0.07],[5030,0.18],[5050,0.36],[5068,0.57],[5086,0.76],[5105,0.90],[5122,0.98],[5160,1],
[5184,1],[5184,0],[5218,0],[5218,1],[5705,1],[5705,0],[5736,0],[5736,1],[6069,1],[6069,0],[6099,0],[6099,1],
[6251,1],[6282,0.83],[6297,0.76],[6305,0.21],[6315,0.17],[6332,0.07],[6360,0.02],[6389,0],
[6696,0],[6720,0.12],[6746,0.36],[6770,0.55],[6796,0.72],[6820,0.86],[6840,0.95]];

// line markers
const narrowLines = [3203,3346,3426,3727,3869,3968,4072,4102,4340,4363,4686,4861,4959,5007,5199,5721,6087,6300,6364,6548,6583,6716,6731];
const broadLines = [2798,4471,5876,6563];
const balmerLimit = [3646];

// fitting windows across the top
const broadWindows = [[2660,2943],[3899,5110],[5591,6176],[6235,6840]];
const componentWindows = [["NLR",2660,2943],["HeII",4388,5007],["BLR",5007,5110],["cont",6235,6840]];

// line identifications
const lineNames = ["MgII","[NeV]","H\u221e","[OII]","H\u03b3","HeII","[OIII]","H\u03b2","HeI","[OI]"];
const lineWaves = [2798,3340,3646,3727,4340,4686,5007,4861,5876,6300];

const legendNames = ["AVG","cont","Fe2","BLR","NLR"];
const titleLeft = "rm497";
const titleRight = "BLR 15000 NLR 900 km/s";

// ---- drawing ----
const plot = { left: 253, right: 1685, top: 63, bottom: 977 };
const col = {
  avg: "#000000", cont: "#ff0000", fe2: "#1e90ff", blr: "#0000ff", nlr: "#ff8000",
  resid: "#19f28c", green: "#22e622", grey: "#b0b0b0", mask: "#5a5a5a",
  magenta: "#ff00ff", purple: "#8000ff", label: "#606060"
};

const svg = d3.select("#chart");
const x = d3.scaleLog().domain(waveRange).range([plot.left, plot.right]);
const y = d3.scaleLinear().domain(fluxRange).range([plot.bottom, plot.top]);
const wy = d3.scaleLinear().domain([0, 1]).range([y(-2.69), y(-1.16)]);

const byWave = (a, b) => a[0] - b[0];
const avgAll = avgFlux.concat(avgFluxFine).sort(byWave);
const residAll = residFlux.concat(residFluxFine).sort(byWave);

svg.append("clipPath").attr("id", "clip")
  .append("rect").attr("x", plot.left).attr("y", plot.top)
  .attr("width", plot.right - plot.left).attr("height", plot.bottom - plot.top);

const g = svg.append("g").attr("clip-path", "url(#clip)");
const line = d3.line().x(d => x(d[0])).y(d => y(d[1]));
const smooth = d3.line().x(d => x(d[0])).y(d => y(d[1])).curve(d3.curveMonotoneX);

// fit weight curve
g.append("path").datum(fitWeight)
  .attr("d", d3.line().x(d => x(d[0])).y(d => wy(d[1])))
  .attr("fill", "none").attr("stroke", col.mask).attr("stroke-width", 2.5);

// vertical dotted markers
function vlines(list, color) {
  g.append("g").selectAll("line").data(list).join("line")
    .attr("x1", d => x(d)).attr("x2", d => x(d))
    .attr("y1", plot.top + 6).attr("y2", plot.bottom)
    .attr("stroke", color).attr("stroke-width", 2.5)
    .attr("stroke-dasharray", "3 12");
}
vlines(narrowLines, col.nlr);
vlines(broadLines, col.green);
vlines(balmerLimit, "#000");

// little dashes on the narrow lines
g.append("g").selectAll("line").data(narrowLines).join("line")
  .attr("x1", d => x(d) - 5).attr("x2", d => x(d) + 5)
  .attr("y1", 108.5).attr("y2", 108.5)
  .attr("stroke", col.nlr).attr("stroke-width", 2.5);

// window bars
g.append("g").selectAll("line").data(broadWindows).join("line")
  .attr("x1", d => x(d[0])).attr("x2", d => x(d[1]))
  .attr("y1", 90.5).attr("y2", 90.5)
  .attr("stroke", col.green).attr("stroke-width", 3);
const winColor = { NLR: col.nlr, HeII: col.magenta, BLR: col.blr, cont: col.cont };
g.append("g").selectAll("line").data(componentWindows).join("line")
  .attr("x1", d => x(d[1])).attr("x2", d => x(d[2]))
  .attr("y1", 127).attr("y2", 127)
  .attr("stroke", d => winColor[d[0]]).attr("stroke-width", 3);

// residual and components near zero
g.append("path").datum(residAll).attr("d", line)
  .attr("fill", "none").attr("stroke", col.resid).attr("stroke-width", 1.6);
g.append("path").datum(fe2Flux).attr("d", line)
  .attr("fill", "none").attr("stroke", col.fe2).attr("stroke-width", 3);
g.append("path").datum(blrFlux).attr("d", smooth)
  .attr("fill", "none").attr("stroke", col.blr).attr("stroke-width", 2.6);

// data, total model, fit
g.append("path").datum(avgAll).attr("d", line)
  .attr("fill", "none").attr("stroke", col.avg).attr("stroke-width", 2.8)
  .attr("stroke-linejoin", "round");
g.append("g").selectAll("path").data(totalPeaks).join("path")
  .attr("d", line).attr("fill", "none")
  .attr("stroke", col.grey).attr("stroke-width", 2.2);
g.append("path").datum(fe2PlusCont).attr("d", smooth)
  .attr("fill", "none").attr("stroke", col.fe2).attr("stroke-width", 3);
g.append("path").datum(modelFlux).attr("d", line)
  .attr("fill", "none").attr("stroke", col.blr).attr("stroke-width", 2.8)
  .attr("stroke-linejoin", "round");
g.append("path").datum(contFlux).attr("d", smooth)
  .attr("fill", "none").attr("stroke", col.cont).attr("stroke-width", 3);
g.append("path").datum(nlrFlux).attr("d", line)
  .attr("fill", "none").attr("stroke", col.nlr).attr("stroke-width", 2.4);

// line identifications
const labelStyle = {
  "MgII": { color: col.nlr, base: 900 },
  "[NeV]": { color: col.label, base: 952 },
  "H\u221e": { color: "#000", base: 951 },
  "[OII]": { color: col.label, base: 952 },
  "H\u03b3": { color: col.label, base: 950 },
  "HeII": { color: col.magenta, base: 950 },
  "[OIII]": { color: col.label, base: 952 },
  "H\u03b2": { color: col.blr, base: 900 },
  "HeI": { color: col.purple, base: 952 },
  "[OI]": { color: col.label, base: 952 }
};
const serifChars = "[]IV\u03b2\u03b3";
lineNames.forEach((name, i) => {
  const st = labelStyle[name];
  const t = svg.append("text")
    .attr("x", x(lineWaves[i])).attr("y", st.base)
    .attr("text-anchor", "middle").attr("font-size", 47)
    .attr("letter-spacing", 1.5)
    .attr("fill", st.color);
  for (const ch of name) {
    t.append("tspan").text(ch)
      .style("font-family", serifChars.includes(ch) ? "'Liberation Serif', serif" : null);
  }
});

// frame and ticks
const axes = svg.append("g").attr("stroke", "#000").attr("stroke-width", 2.4);
function xticks(list, len) {
  axes.append("g").selectAll("line").data(list).join("line")
    .attr("x1", d => x(d)).attr("x2", d => x(d))
    .attr("y1", plot.bottom).attr("y2", plot.bottom - len);
  axes.append("g").selectAll("line").data(list).join("line")
    .attr("x1", d => x(d)).attr("x2", d => x(d))
    .attr("y1", plot.top).attr("y2", plot.top + len + 2);
}
xticks(xMinorTicks, 17);
xticks(xMajorTicks, 36);
function yticks(list, len) {
  axes.append("g").selectAll("line").data(list).join("line")
    .attr("x1", plot.left).attr("x2", plot.left + len)
    .attr("y1", d => y(d)).attr("y2", d => y(d));
  axes.append("g").selectAll("line").data(list).join("line")
    .attr("x1", plot.right).attr("x2", plot.right - len)
    .attr("y1", d => y(d)).attr("y2", d => y(d));
}
yticks(yMinorTicks, 17);
yticks(yMajorTicks, 33);
axes.append("rect").attr("x", plot.left).attr("y", plot.top)
  .attr("width", plot.right - plot.left).attr("height", plot.bottom - plot.top)
  .attr("fill", "none");

svg.append("g").selectAll("text").data(xTickLabels).join("text")
  .attr("x", d => x(d)).attr("y", 1066)
  .attr("text-anchor", "middle").attr("font-size", 68)
  .attr("textLength", 168).attr("lengthAdjust", "spacingAndGlyphs")
  .attr("stroke", d => d === 5000 ? "#000" : null)
  .attr("stroke-width", d => d === 5000 ? 1.6 : null)
  .text(d => d);

svg.append("g").selectAll("text").data(yTickLabels).join("text")
  .attr("transform", d => `translate(202,${y(d)}) rotate(-90)`)
  .attr("text-anchor", "middle").attr("font-size", 68)
  .text(d => d);

// y axis title (wide glyphs, stretched along the baseline)
const yt = svg.append("text")
  .attr("transform", "translate(93,963) rotate(-90) scale(1.43,1)")
  .attr("font-size", 67);
yt.append("tspan").text("f");
yt.append("tspan").attr("dy", 26).attr("font-size", 50).text("\u03bb");
yt.append("tspan").attr("dy", -26).text(" (10");
yt.append("tspan").attr("dy", -28).attr("font-size", 50).text("\u221217");
yt.append("tspan").attr("dy", 28).text(" erg cm");
yt.append("tspan").attr("dy", -28).attr("font-size", 50).text("\u22122");
yt.append("tspan").attr("dy", 28).text("s");
yt.append("tspan").attr("dy", -28).attr("font-size", 50).text("\u22121");
yt.append("tspan").attr("dy", 28).text("\u00c5");
yt.append("tspan").attr("dy", -28).attr("font-size", 50).text("\u22121");
yt.append("tspan").attr("dy", 28).text(")");

// legend on the right
const legendColor = { AVG: col.avg, cont: col.cont, Fe2: col.fe2, BLR: col.blr, NLR: col.nlr };
const legendWidth = { AVG: 121, cont: 143, Fe2: 113, BLR: 120, NLR: 121 };
svg.append("g").selectAll("text").data(legendNames).join("text")
  .attr("x", d => d === "AVG" ? 1702 : 1706).attr("y", (d, i) => 520 + i * 91.7)
  .attr("font-size", 64).attr("fill", d => legendColor[d])
  .attr("textLength", d => legendWidth[d]).attr("lengthAdjust", "spacingAndGlyphs")
  .text(d => d);

// titles
svg.append("text").attr("x", 258).attr("y", 27).attr("font-size", 54)
  .attr("textLength", 210).attr("lengthAdjust", "spacingAndGlyphs")
  .text(titleLeft);
svg.append("text").attr("x", 1683).attr("y", 39).attr("font-size", 50)
  .attr("text-anchor", "end")
  .attr("textLength", 668).attr("lengthAdjust", "spacingAndGlyphs")
  .text(titleRight);
</script>
</body>
</html>
